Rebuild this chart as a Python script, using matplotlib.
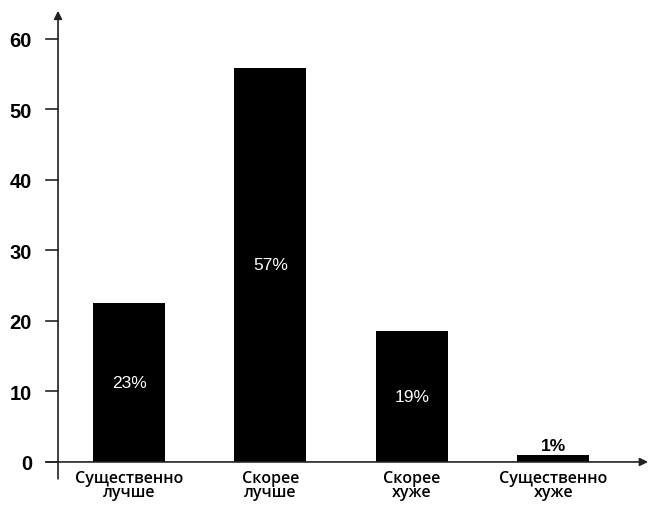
import matplotlib.pyplot as plt

categories = ['Существенно\nлучше', 'Скорее\nлучше', 'Скорее\nхуже', 'Существенно\nхуже']
values = [22.5, 55.9, 18.6, 1.0]
labels = ['23%', '57%', '19%', '1%']
yticks = [0, 10, 20, 30, 40, 50, 60]

fig = plt.figure(figsize=(6.48, 5.06), dpi=100)
# axes placed so that 0 sits at y=463 px and 60 at y=40 px
ax = fig.add_axes([46 / 648, 22.6 / 506, (648 - 46) / 648, 482.2 / 506])

x = range(len(categories))
ax.bar(x, values, width=0.51, color='black')

# percent labels: white inside the tall bars, black above the small one
for i, (v, lab) in enumerate(zip(values, labels)):
    if v > 5:
        ax.text(i, v / 2, lab, color='white', ha='center', va='center',
                fontsize=12.5, family='Liberation Sans')
    else:
        ax.text(i, v + 0.3, lab, color='black', ha='center', va='bottom',
                fontsize=12.5, fontweight='bold', family='Liberation Sans')

# category labels just under the x axis
for i, cat in enumerate(categories):
    ax.text(i, -1.2, cat, ha='center', va='top', fontsize=11.5,
            family='Open Sans', fontweight='semibold', linespacing=0.8,
            clip_on=False)

ax.set_xlim(-0.587, 3.67)
ax.set_ylim(-2.9, 65.5)

for s in ax.spines.values():
    s.set_visible(False)

# axes with arrows
ax.annotate('', xy=(3.67, 0), xytext=(-0.587, 0),
            arrowprops=dict(arrowstyle='-|>', color='#222222', lw=1.2,
                            mutation_scale=12, shrinkA=0, shrinkB=0))
ax.annotate('', xy=(-0.502, 64.0), xytext=(-0.502, -2.4),
            arrowprops=dict(arrowstyle='-|>', color='#222222', lw=1.2,
                            mutation_scale=12, shrinkA=0, shrinkB=0))

ax.set_yticks(yticks)
ax.set_yticklabels([str(t) for t in yticks], fontsize=14.5, fontweight='bold',
                   family='Liberation Sans')
for t in yticks:
    ax.plot([-0.587, -0.502], [t, t], color='#222222', lw=1.2, clip_on=False)
ax.tick_params(axis='y', length=0, pad=10)
ax.set_xticks([])

fig.savefig('out.png', dpi=100)
